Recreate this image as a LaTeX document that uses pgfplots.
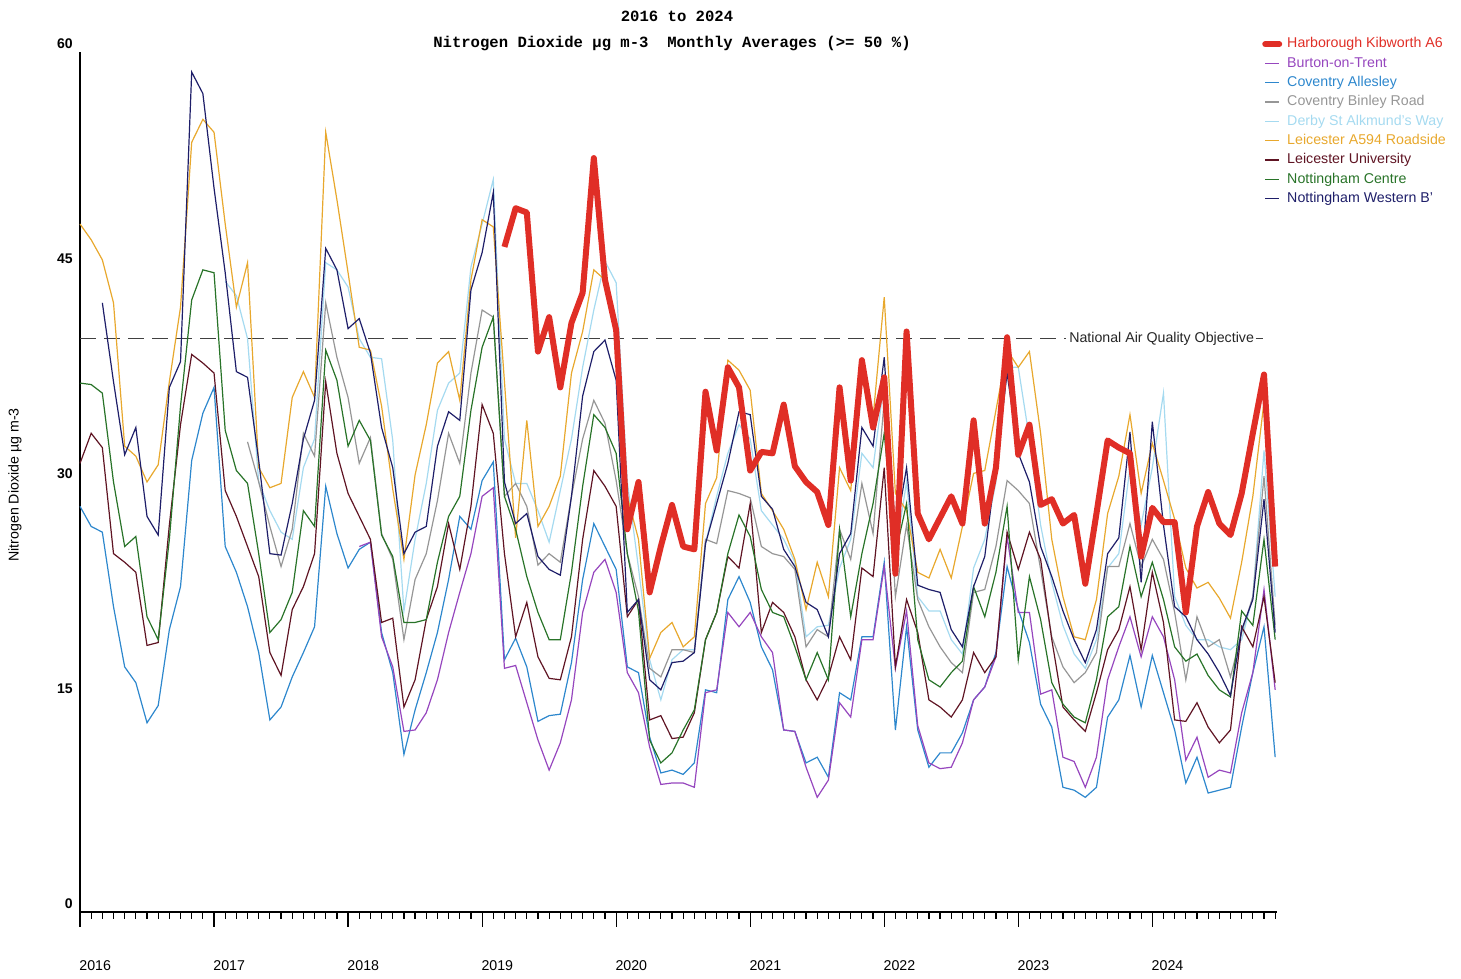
\documentclass[border=0pt]{standalone}
\usepackage{fontspec}
\setmainfont{Liberation Sans}
\newfontfamily\monob{Liberation Mono}
\usepackage{pgfplots}
\pgfplotsset{compat=1.18}
\usepackage{pgfplotstable}

\definecolor{harb}{RGB}{224,46,38}
\definecolor{burt}{RGB}{150,70,190}
\definecolor{covA}{RGB}{45,135,205}
\definecolor{covB}{RGB}{150,150,150}
\definecolor{derby}{RGB}{165,218,240}
\definecolor{leicA}{RGB}{232,168,45}
\definecolor{leicU}{RGB}{95,20,35}
\definecolor{notC}{RGB}{40,115,40}
\definecolor{notW}{RGB}{30,30,105}

\pgfplotstableread{
m harb burt covA covB derby leicA leicU notC notW
0 nan nan 28.3 nan nan 48.0 31.3 36.9 nan
1 nan nan 26.9 nan nan 46.9 33.4 36.8 nan
2 nan nan 26.5 nan nan 45.5 32.4 36.2 42.5
3 nan nan 21.3 nan nan 42.5 25.0 30.0 37.0
4 nan nan 17.1 nan nan 32.5 24.4 25.5 31.9
5 nan nan 16.0 nan nan 31.8 23.7 26.2 33.8
6 nan nan 13.2 nan nan 30.0 18.6 20.6 27.6
7 nan nan 14.4 nan nan 31.2 18.8 19.0 26.3
8 nan nan 19.7 nan nan 37.0 27.0 26.0 36.6
9 nan nan 22.7 nan nan 42.2 34.0 35.3 38.4
10 nan nan 31.5 nan nan 53.7 38.9 42.7 58.6
11 nan nan 34.8 nan nan 55.3 38.3 44.8 57.1
12 nan nan 36.6 nan nan 54.4 37.6 44.6 50.5
13 nan nan 25.5 nan 44.0 48.0 29.4 33.6 44.6
14 nan nan 23.7 nan 43.0 42.2 27.6 30.8 37.7
15 nan nan 21.3 32.8 40.0 45.3 25.5 29.9 37.3
16 nan nan 18.1 30.0 30.0 31.0 23.4 25.0 31.5
17 nan nan 13.4 26.9 28.0 29.6 18.1 19.5 25.0
18 nan nan 14.3 24.1 26.5 29.9 16.5 20.4 24.9
19 nan nan 16.4 26.7 26.0 35.9 21.1 22.3 28.5
20 nan nan 18.1 33.4 31.0 37.7 22.7 28.0 33.0
21 nan nan 19.9 31.8 33.0 35.9 25.0 26.9 35.7
22 nan nan 29.7 42.5 45.3 54.4 37.0 39.2 46.3
23 nan nan 26.4 38.7 44.8 49.7 32.0 37.1 44.8
24 nan nan 24.0 35.9 43.6 44.6 29.2 32.5 40.7
25 nan 25.5 25.3 31.3 40.0 39.4 27.6 34.3 41.4
26 nan 25.8 25.8 33.1 38.7 39.2 26.0 32.9 39.0
27 nan 19.2 19.5 26.4 38.6 35.3 20.2 26.3 33.8
28 nan 17.1 16.7 24.6 32.9 29.5 20.5 24.8 31.0
29 nan 12.6 11.0 19.0 21.0 24.6 14.3 20.2 25.0
30 nan 12.7 14.1 23.2 26.0 30.5 16.2 20.2 26.5
31 nan 13.9 16.7 25.0 29.9 34.0 20.4 20.4 26.9
32 nan 16.2 19.5 28.7 35.0 38.3 22.7 24.4 32.5
33 nan 19.5 23.2 33.4 36.9 39.1 27.1 27.6 34.9
34 nan 22.3 27.6 31.3 37.6 35.7 23.9 29.0 34.3
35 nan 25.0 26.7 37.6 45.0 44.1 28.3 35.0 43.4
36 nan 29.0 30.1 42.0 48.0 48.3 35.4 39.4 46.0
37 nan 29.6 31.4 41.5 51.1 47.8 33.4 41.5 50.2
38 46.4 17.0 17.6 29.0 33.0 37.0 25.0 29.0 30.0
39 49.1 17.2 19.1 29.9 29.9 26.1 19.2 26.7 27.1
40 48.8 14.6 17.1 28.3 29.9 34.3 21.6 23.4 27.8
41 39.1 12.0 13.3 24.2 28.0 26.9 17.8 20.9 24.8
42 41.5 9.9 13.7 25.0 25.8 28.3 16.3 19.0 23.9
43 36.6 11.8 13.8 24.4 29.4 30.4 16.2 19.0 23.5
44 41.1 14.8 17.4 29.0 33.0 37.6 19.2 23.7 29.0
45 43.2 20.9 23.2 33.0 38.0 40.5 26.0 29.7 36.0
46 52.6 23.7 27.1 35.7 42.0 44.8 30.8 34.7 39.1
47 44.1 24.6 25.5 34.1 45.4 44.1 29.7 33.8 39.9
48 40.6 22.3 23.9 30.1 43.9 40.6 28.3 32.0 37.1
49 26.7 16.7 17.1 25.0 30.0 29.0 20.6 25.0 20.9
50 30.0 15.3 16.7 22.0 24.0 26.0 21.8 21.0 21.8
51 22.3 11.5 12.2 17.0 17.6 17.7 13.4 12.0 16.2
52 25.5 8.9 9.7 16.4 14.8 19.5 13.7 10.4 15.5
53 28.4 9.0 9.9 18.3 17.6 20.2 12.1 11.1 17.4
54 25.5 9.0 9.6 18.3 18.3 18.5 12.2 12.7 17.5
55 25.3 8.7 10.4 18.1 18.3 19.2 13.9 14.1 18.1
56 36.3 15.3 15.5 26.0 25.7 28.5 19.0 19.0 25.7
57 32.2 15.5 15.3 25.7 29.0 30.3 20.9 20.9 28.5
58 38.0 20.9 21.8 29.4 32.0 38.5 24.8 25.0 31.3
59 36.6 19.9 23.4 29.2 34.0 37.8 24.0 27.7 34.9
60 30.8 20.9 21.6 28.9 33.0 36.4 28.5 26.2 34.7
61 32.1 19.2 18.5 25.5 28.0 29.2 19.5 22.5 29.0
62 32.0 18.1 16.9 25.0 27.0 28.0 21.6 20.9 28.1
63 35.4 12.7 12.7 24.8 26.0 26.7 20.9 20.6 25.3
64 31.1 12.6 12.6 23.9 24.4 24.6 19.2 18.5 24.1
65 30.0 10.1 10.4 18.5 19.2 21.1 16.2 16.2 21.6
66 29.3 8.0 10.8 19.7 19.9 24.4 14.8 18.1 21.1
67 27.0 9.2 9.4 19.2 20.0 22.0 16.4 16.2 19.2
68 36.6 14.6 15.3 26.7 24.0 31.0 19.2 26.7 25.0
69 30.1 13.6 14.8 24.6 26.0 29.4 17.6 20.6 26.4
70 38.5 19.0 19.2 29.9 32.0 38.0 24.0 25.0 33.8
71 33.8 19.0 19.2 26.4 31.0 34.5 23.4 28.5 32.5
72 37.3 24.1 24.4 35.7 37.0 42.9 31.0 33.4 38.7
73 23.6 17.0 12.7 22.0 25.0 29.2 17.1 25.0 26.4
74 40.5 21.0 19.9 27.0 30.0 28.0 21.8 28.5 31.0
75 27.8 13.0 12.7 21.8 22.0 23.7 19.5 19.0 22.8
76 26.0 10.4 10.1 19.9 21.0 23.3 14.8 16.2 22.5
77 27.5 10.0 11.1 18.5 21.0 25.3 14.3 15.7 22.3
78 29.0 10.1 11.1 17.4 19.0 23.3 13.6 16.7 19.7
79 27.1 11.8 12.5 16.7 18.0 26.9 14.8 17.5 18.5
80 34.3 14.8 14.8 22.3 24.0 30.6 18.1 22.7 22.7
81 27.1 15.7 15.7 22.5 26.0 30.8 16.7 20.6 24.8
82 31.0 17.8 18.1 25.5 30.0 35.0 17.8 23.7 31.1
83 40.1 26.2 24.1 30.1 38.0 39.2 26.5 28.3 37.6
84 31.9 20.9 21.1 29.4 38.0 38.0 23.9 17.6 32.0
85 34.0 20.9 18.8 28.5 33.0 39.1 26.5 23.4 30.0
86 28.4 15.2 14.5 23.9 27.0 33.4 24.6 20.4 25.5
87 28.8 15.5 12.9 19.2 23.0 26.0 19.0 16.0 23.4
88 27.1 10.8 8.7 17.1 20.0 22.0 14.3 14.5 21.0
89 27.7 10.5 8.5 16.0 18.0 19.2 13.4 13.6 19.0
90 22.9 8.7 8.0 16.7 17.0 19.0 12.6 13.2 17.4
91 27.8 10.8 8.7 18.1 19.0 21.8 15.3 16.2 19.7
92 32.9 16.2 13.6 24.1 24.0 27.8 18.3 20.6 25.0
93 32.4 18.5 14.8 24.1 25.0 30.4 19.7 21.3 26.1
94 32.0 20.6 17.9 27.1 31.0 34.7 22.7 25.5 33.5
95 24.8 17.8 14.3 24.1 27.0 29.2 18.3 22.0 23.0
96 28.2 20.6 17.9 26.0 31.0 32.7 23.7 24.4 34.2
97 27.2 19.2 15.3 24.6 36.2 30.1 20.2 21.8 27.0
98 27.2 16.2 12.7 20.9 22.0 27.4 13.4 18.5 21.3
99 20.9 10.6 9.0 16.2 20.0 24.0 13.3 17.5 20.6
100 26.9 12.2 10.8 20.6 19.0 22.6 14.6 18.0 19.0
101 29.3 9.4 8.3 18.5 19.0 23.0 12.9 16.5 18.0
102 27.1 9.9 8.5 19.0 18.5 21.9 11.8 15.5 16.7
103 26.3 9.7 8.7 16.4 18.3 20.5 12.7 15.0 15.1
104 29.2 13.9 12.9 19.5 19.0 24.4 19.9 21.0 19.7
105 33.4 16.7 16.7 22.0 22.0 29.0 18.5 20.0 21.8
106 37.5 22.5 19.9 30.4 32.2 35.6 22.0 26.0 28.8
107 24.1 15.5 10.8 20.0 22.0 25.0 16.0 19.0 19.5
}\datatable

\begin{document}
\begin{tikzpicture}[x=1pt,y=1pt]
\path (0,0) rectangle (730.5,489.5);
\node[font=\monob\bfseries\fontsize{7.8}{9}\selectfont] at (338.5,481.5) {2016 to 2024};
\node[font=\monob\bfseries\fontsize{7.8}{9}\selectfont] at (336,467.5) {Nitrogen Dioxide µg m-3\ \ Monthly Averages (>= 50 \%)};
\node[rotate=90,font=\fontsize{7.1}{8}\selectfont] at (7.5,247) {Nitrogen Dioxide µg m-3};
\begin{scope}[shift={(40,33.5)}]
\begin{axis}[
  at={(0,0)}, anchor=origin,
  scale only axis, width=598.7pt, height=430pt,
  xmin=0, xmax=107.2, ymin=0, ymax=60,
  axis lines*=left,
  axis line style={black, line width=0.7pt},
  clip=false,
  unbounded coords=jump,
  tick align=outside,
  xtick={0,...,107}, xticklabels={},
  x tick style={black, line width=0.6pt},
  major tick length=3.5pt,
  extra x ticks={0,12,24,36,48,60,72,84,96},
  extra x tick labels={2016,2017,2018,2019,2020,2021,2022,2023,2024},
  extra x tick style={major tick length=7.5pt,
     xticklabel style={anchor=base west, inner sep=0pt, yshift=-22pt, xshift=-0.5pt}},
  xticklabel style={font=\fontsize{7.1}{8}\selectfont},
  ytick={0,15,30,45,60},
  y tick style={draw=none},
  yticklabel style={font=\fontsize{7}{8}\selectfont\bfseries, anchor=base east, inner sep=0pt, xshift=0pt, yshift=1.5pt},
  /pgf/number format/assume math mode=true,
  legend style={at={(axis description cs:0.987,1.02)}, anchor=north west, draw=none, fill=none,
     font=\fontsize{7.1}{8}\selectfont, inner sep=0pt, row sep=0.65pt,
     nodes={inner sep=1pt, text height=5.4pt, text depth=1.6pt}},
  legend cell align=left,
  legend image code/.code={\draw[#1] (0pt,0pt) -- (7pt,0pt);},
  /tikz/every odd column/.append style={column sep=1.5pt},
]
\addlegendimage{harb, line width=3pt, line cap=round}
\addlegendentry{\textcolor{harb}{Harborough Kibworth A6}}
\addlegendimage{burt, line width=0.6pt}
\addlegendentry{\textcolor{burt}{Burton-on-Trent}}
\addlegendimage{covA, line width=0.6pt}
\addlegendentry{\textcolor{covA}{Coventry Allesley}}
\addlegendimage{covB, line width=0.6pt}
\addlegendentry{\textcolor{covB}{Coventry Binley Road}}
\addlegendimage{derby, line width=0.6pt}
\addlegendentry{\textcolor{derby}{Derby St Alkmund's Way}}
\addlegendimage{leicA, line width=0.6pt}
\addlegendentry{\textcolor{leicA}{Leicester A594 Roadside}}
\addlegendimage{leicU, line width=0.6pt}
\addlegendentry{\textcolor{leicU}{Leicester University}}
\addlegendimage{notC, line width=0.6pt}
\addlegendentry{\textcolor{notC}{Nottingham Centre}}
\addlegendimage{notW, line width=0.6pt}
\addlegendentry{\textcolor{notW}{Nottingham Western B'}}

\addplot[black!75, line width=0.6pt, dash pattern=on 8pt off 4pt, forget plot] coordinates {(0,40) (88.3,40)};
\addplot[black!75, line width=0.6pt, forget plot] coordinates {(105.25,40) (105.9,40)};
\node[anchor=west, inner sep=1pt, font=\fontsize{7.1}{8}\selectfont, text=black!85] at (axis cs:88.35,40) {National Air Quality Objective};

\addplot[derby, line width=0.6pt, forget plot] table[x=m,y=derby]{\datatable};
\addplot[covB, line width=0.6pt, forget plot] table[x=m,y=covB]{\datatable};
\addplot[leicA, line width=0.6pt, forget plot] table[x=m,y=leicA]{\datatable};
\addplot[covA, line width=0.6pt, forget plot] table[x=m,y=covA]{\datatable};
\addplot[burt, line width=0.6pt, forget plot] table[x=m,y=burt]{\datatable};
\addplot[leicU, line width=0.6pt, forget plot] table[x=m,y=leicU]{\datatable};
\addplot[notC, line width=0.6pt, forget plot] table[x=m,y=notC]{\datatable};
\addplot[notW, line width=0.6pt, forget plot] table[x=m,y=notW]{\datatable};
\addplot[harb, line width=3pt, line join=round, forget plot] table[x=m,y=harb]{\datatable};
\end{axis}
\end{scope}
\end{tikzpicture}
\end{document}
